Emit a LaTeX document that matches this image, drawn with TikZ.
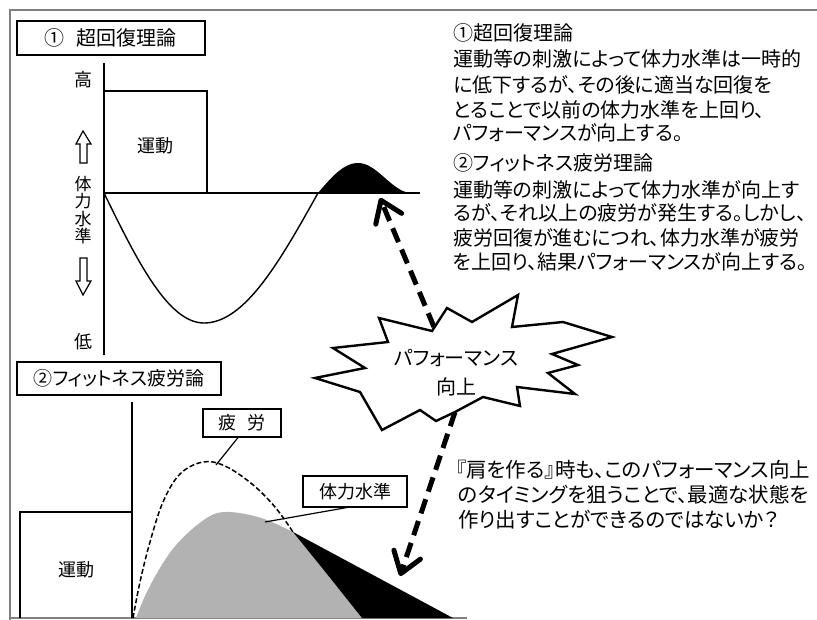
\documentclass[tikz,border=0pt]{standalone}
\usepackage{fontspec}
\setmainfont{Noto Sans CJK JP}[RawFeature=+palt]
\usetikzlibrary{arrows.meta}
\begin{document}
\begin{tikzpicture}[x=1pt,y=-1pt,
  frameline/.style={draw=black!50,line width=1.5pt},
  axis/.style={draw=black,line width=1.4pt},
  boxed/.style={draw=black,line width=1.2pt,inner sep=0pt,font=\fontsize{19}{22}\selectfont},
  lbl/.style={inner sep=0pt,font=\fontsize{18}{20}\selectfont},
  txt/.style={anchor=west,inner sep=0pt,font=\fontsize{20}{24}\selectfont},
  bigarrow/.style={line width=5pt,dash pattern=on 15pt off 8pt,
     -{Straight Barb[length=20pt,width=28pt,line cap=round,line join=round]}},
  hollow/.style={draw=black,line width=1.2pt,fill=white},
  starline/.style={draw=black,line width=2.4pt,line join=miter,fill=white},
  fatigue/.style={draw=black,line width=1.5pt,dash pattern=on 5pt off 2.5pt},
  leader/.style={draw=black,line width=1.2pt}]
\useasboundingbox (0,0) rectangle (817,620);
\fill[white] (0,0) rectangle (817,620);

% outer frame
\coordinate (fTL) at (10,10);
\coordinate (fTR) at (817,10);
\coordinate (fBL) at (10,620);
\coordinate (fB1) at (10,618);
\coordinate (fB2) at (467,618);
\draw[frameline] (fTR) -- (fTL) -- (fBL);
\draw[frameline] (fB1) -- (fB2);

% ===== Graph 1 =====
\node[boxed,minimum width=188pt,minimum height=34pt] (t1) at (111,38) {\fontsize{20}{22}\selectfont ①\hspace{0.6em}超回復理論};
\coordinate (a1top) at (104,63);
\coordinate (a1bot) at (104,355);
\draw[axis] (a1top) -- (a1bot);
\draw[axis] (104,193) rectangle (207,91);
\node[lbl] (u1) at (155,146) {運動};
\node[lbl] (hi) at (83,80) {高};
\node[lbl] (lo) at (83,342) {低};
\node[lbl,align=center,font=\fontsize{17}{17.5}\selectfont] (vt) at (83,210) {体\\力\\水\\準};
\draw[hollow] (83,131) -- (91,144) -- (87,144) -- (87,163) -- (80,163) -- (80,144) -- (76,144) -- cycle;
\draw[hollow] (80,258) -- (87,258) -- (87,281) -- (91,281) -- (83,295) -- (76,281) -- (80,281) -- cycle;
% hump (black)
\fill[black] (318,193) -- plot[domain=0:90,samples=30] ({318+40*\x/90},{193-30*sin(\x)})
  -- plot[domain=0:180,samples=40] ({358+54*\x/180},{193-15*(1+cos(\x))}) -- cycle;
% dip curve
\draw[line width=1.4pt] plot[domain=0:90,samples=40] ({104+100*\x/90},{193+130*sin(\x)})
  -- plot[domain=90:180,samples=40] ({204+114*(\x-90)/90},{193+130*sin(\x)});
\coordinate (b1L) at (104,193);
\coordinate (b1R) at (420,193);
\draw[axis] (b1L) -- (b1R);

% ===== Graph 2 =====
\node[boxed,minimum width=204pt,minimum height=33pt] (t2) at (119,378.5) {②フィットネス疲労論};
\coordinate (a2top) at (132,402);
\coordinate (a2bot) at (132,618);
\draw[axis] (20,618) -- (20,512) -- (132,512);
\draw[axis] (a2top) -- (a2bot);
\node[lbl] (u2) at (76,570) {運動};
% gray region
\fill[black!30] plot[smooth,tension=0.6] coordinates {(136,618) (145,596) (157,573) (172,550) (190,531) (210,516) (225,512) (245,514) (267,520) (293,532)}
  -- (327,574) -- (362,618) -- cycle;
% black region
\fill[black] (293,532) -- (453,618) -- (362,618) -- (327,574) -- cycle;
% fatigue dashed curve
\draw[fatigue] plot[smooth,tension=0.6] coordinates {(133,618) (140,582) (150,542) (163,502) (180,474) (203,462) (225,466) (252,484) (275,507) (293,532)};
\node[boxed,minimum width=78pt,minimum height=28pt,font=\fontsize{18}{20}\selectfont] (fa) at (242,423) {疲\hspace{0.6em}労};
\node[boxed,minimum width=104pt,minimum height=31pt,font=\fontsize{18}{20}\selectfont] (fl) at (355,491.5) {体力水準};
\coordinate (faPt) at (216,465);
\coordinate (flPt) at (265,522);
\draw[leader] (fa.south) ++(-4,0) coordinate (faS) -- (faPt);
\draw[leader] (350,507) coordinate (flS) -- (flPt);

% ===== arrows and star =====
\coordinate (humpTip) at (380,198);
\coordinate (starTop) at (434,327);
\coordinate (starBot) at (455,412);
\coordinate (gainTip) at (400,576);
\draw[bigarrow] (starTop) -- (humpTip);
\draw[bigarrow] (starBot) -- (gainTip);
\draw[starline] (612,337) -- (552,354) -- (578,365) -- (548,373) -- (575,394) -- (517,387) -- (520,406)
  -- (483,397) -- (455,412) -- (436,421) -- (420,410) -- (382,430) -- (360,392) -- (315,378)
  -- (365,368) -- (333,348) -- (388,342) -- (379,318) -- (432,331) -- (447,308) -- (472,322)
  -- (518,295) -- (512,327) -- (563,322) -- cycle;
\node[txt,anchor=center,font=\fontsize{20}{24}\selectfont] (p1) at (456,358) {パフォーマンス};
\node[txt,anchor=center,font=\fontsize{20}{24}\selectfont] (p2) at (456,387) {向上};

% ===== right texts =====
\node[txt] (r1) at (453,33) {①超回復理論};
\node[txt] (r2) at (453,59) {運動等の刺激によって体力水準は一時的};
\node[txt] (r3) at (453,85) {に低下するが、その後に適当な回復を};
\node[txt] (r4) at (453,110) {とることで以前の体力水準を上回り、};
\node[txt] (r5) at (453,133) {パフォーマンスが向上する。};
\node[txt] (s1) at (453,163) {②フィットネス疲労理論};
\node[txt] (s2) at (453,190) {運動等の刺激によって体力水準が向上す};
\node[txt] (s3) at (453,213) {るが、それ以上の疲労が発生する。しかし、};
\node[txt] (s4) at (453,238) {疲労回復が進むにつれ、体力水準が疲労};
\node[txt] (s5) at (453,262) {を上回り、結果パフォーマンスが向上する。};
\node[txt,font=\fontsize{20.5}{24}\selectfont] (q1) at (456,470) {『肩を作る』時も、このパフォーマンス向上};
\node[txt,font=\fontsize{20.5}{24}\selectfont] (q2) at (458,495) {のタイミングを狙うことで、最適な状態を};
\node[txt,font=\fontsize{20.5}{24}\selectfont] (q3) at (458,520) {作り出すことができるのではないか？};
\end{tikzpicture}
\end{document}
